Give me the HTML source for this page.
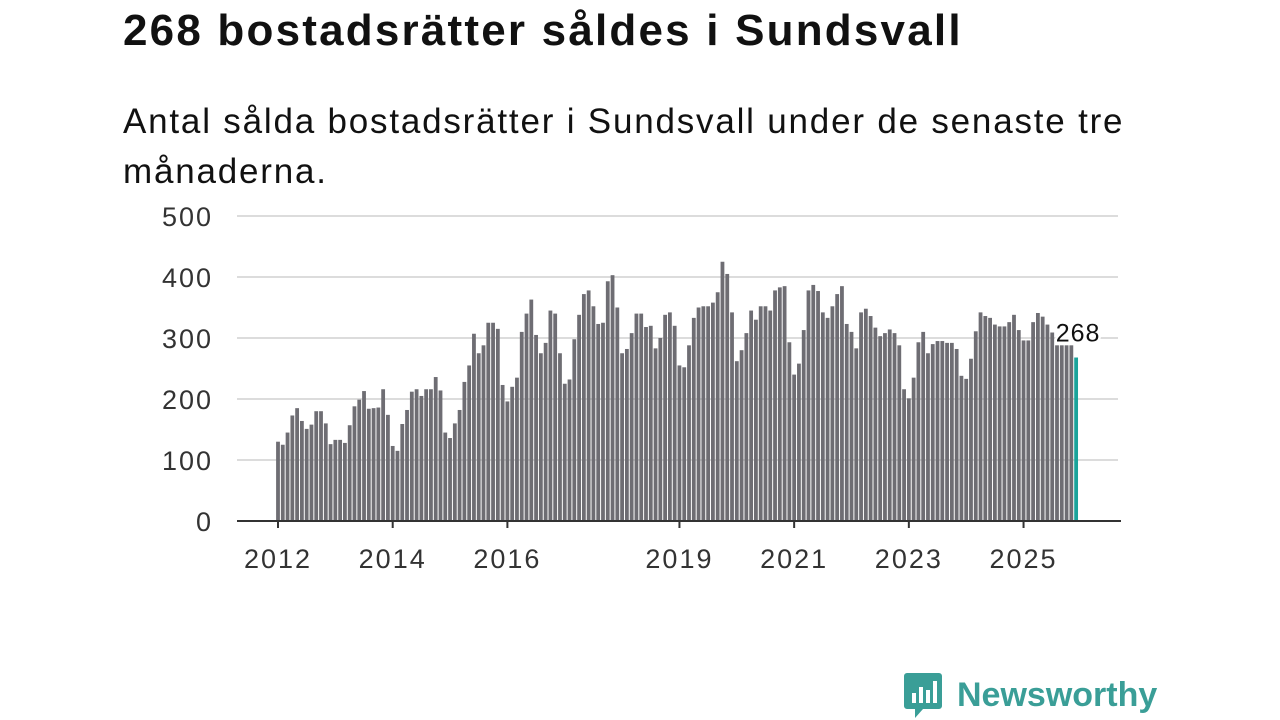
<!DOCTYPE html>
<html><head><meta charset="utf-8">
<style>
body{margin:0;width:1280px;height:720px;background:#fff;overflow:hidden;font-family:"Liberation Sans","DejaVu Sans",sans-serif;color:#111}
#title{position:absolute;left:123px;top:6px;font-size:44px;font-weight:bold;letter-spacing:2.2px;white-space:nowrap}
#sub{position:absolute;left:123px;top:97px;font-size:35px;line-height:50px;width:1100px;letter-spacing:1.8px}
svg{position:absolute;left:0;top:0}
</style></head><body>
<div id="title">268 bostadsrätter såldes i Sundsvall</div>
<div id="sub">Antal sålda bostadsrätter i Sundsvall under de senaste tre månaderna.</div>
<svg id="chart" width="1280" height="720"></svg>
<script>
const startYear = 2012;
const values = [
130,125,145,173,185,164,151,158,180,180,160,126,
133,133,128,157,188,199,213,184,185,186,216,174,
123,115,159,182,212,216,205,216,216,236,214,145,
136,160,182,228,255,307,275,288,325,325,315,223,
196,220,235,310,340,363,305,275,292,345,340,275,
225,232,298,338,372,378,352,323,325,393,403,350,
275,282,308,340,340,318,320,283,300,338,342,320,
255,252,288,333,350,352,352,358,375,425,405,342,
262,280,308,345,330,352,352,345,378,383,385,293,
240,258,313,378,387,377,342,333,352,372,385,323,
310,283,342,348,336,317,303,308,314,308,288,216,
201,235,293,310,275,290,295,295,292,292,282,238,
233,266,311,342,336,333,322,319,319,326,338,313,
296,296,326,341,335,322,309,288,288,288,288,268];
const yTicks = [0,100,200,300,400,500];
const xTickYears = [2012,2014,2016,2019,2021,2023,2025];

const svg = document.getElementById('chart');
const NS = 'http://www.w3.org/2000/svg';
const y0 = 521, pxPer = 305/500;
const x0 = 278, monthStep = 57.35/12;
const yScale = v => y0 - v*pxPer;
const xScale = i => x0 + i*monthStep;
function mk(tag, attrs){const e=document.createElementNS(NS,tag);for(const k in attrs)e.setAttribute(k,attrs[k]);svg.appendChild(e);return e;}

yTicks.forEach(t=>{
  if(t>0){const g=mk('line',{x1:237,x2:1118,y1:yScale(t),y2:yScale(t),stroke:'#dcdcdc','stroke-width':2});
  
  }
  const tx=mk('text',{x:213,y:yScale(t)+10,'text-anchor':'end','font-size':27,'letter-spacing':2,fill:'#333','font-family':'Liberation Sans, sans-serif'});
  tx.textContent=t;
  
  
});

values.forEach((v,i)=>{
  const last = i===values.length-1;
  const r=mk('rect',{x:xScale(i)-1.9,y:yScale(v),width:3.8,height:v*pxPer,fill:last?'#1aa39a':'#6e6d73'});
  
  
});

const ax=mk('line',{x1:237,x2:1121,y1:y0,y2:y0,stroke:'#333','stroke-width':2});



xTickYears.forEach(yr=>{
  const x=xScale((yr-startYear)*12);
  const tk=mk('line',{x1:x,x2:x,y1:y0,y2:y0+7,stroke:'#333','stroke-width':2});
  
  
  const tx=mk('text',{x:x,y:568,'text-anchor':'middle','font-size':27,'letter-spacing':2,fill:'#333','font-family':'Liberation Sans, sans-serif'});
  tx.textContent=yr;
  
  
});

const li=values.length-1;
const lab=mk('text',{x:xScale(li)+2,y:yScale(values[li])-16,'text-anchor':'middle','font-size':25,'letter-spacing':1,fill:'#111',stroke:'#fff','stroke-width':5,'paint-order':'stroke','font-family':'Liberation Sans, sans-serif'});
lab.textContent=values[li];


</script>
<div style="position:absolute;left:903px;top:671px;display:flex;align-items:center">
 <svg width="40" height="48" style="position:static" viewBox="0 0 40 48"><path d="M4 2h32a3 3 0 0 1 3 3v30a3 3 0 0 1-3 3H20l-8 9v-9H4a3 3 0 0 1-3-3V5a3 3 0 0 1 3-3z" fill="#3a9e97"/><rect x="9" y="22" width="4" height="10" fill="#fff"/><rect x="16" y="16" width="4" height="16" fill="#fff"/><rect x="23" y="19" width="4" height="13" fill="#fff"/><rect x="30" y="10" width="4" height="22" fill="#fff"/></svg>
 <span style="font-size:34px;font-weight:bold;color:#3a9e97;margin-left:14px">Newsworthy</span>
</div>
</body></html>
